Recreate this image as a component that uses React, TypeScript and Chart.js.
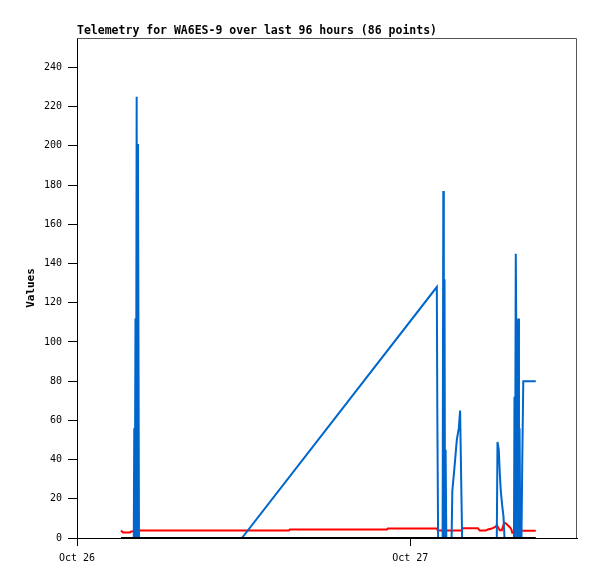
import React, { useEffect, useRef } from "react";
import { Chart, registerables } from "chart.js";

Chart.register(...registerables);

const TITLE = "Telemetry for WA6ES-9 over last 96 hours (86 points)";
const Y_TITLE = "Values";

// x values: hours since Oct 26 00:00
const blueHours = [
  3.166, 4.088, 4.123, 4.159, 4.21, 4.246, 4.296, 4.332, 4.39, 4.462, 11.874,
  25.907, 25.943, 26.0, 26.324, 26.375, 26.411, 26.461, 26.497, 26.54, 26.591,
  26.972, 27.023, 27.166, 27.346, 27.49, 27.584, 27.656, 27.728,
  30.225, 30.275, 30.369, 30.441, 30.513, 30.606, 30.707, 30.779,
  31.462, 31.498, 31.534, 31.592, 31.649, 31.685, 31.772, 31.822, 31.865, 31.916,
  32.002, 32.06, 32.132, 33.031,
];
const blueValues = [
  0, 0, 56, 0, 112, 0, 225, 0, 201, 0, 0,
  128, 64, 0, 0, 177, 0, 132, 0, 45, 0,
  0, 24, 35, 50, 56, 65, 32, 0,
  0, 49, 45, 33, 24, 17, 11, 0,
  0, 72, 0, 145, 84, 0, 112, 0, 56, 0,
  0, 40, 80, 80,
];

const redHours = [
  3.166, 3.31, 3.814, 3.886, 4.03, 4.102, 15.256, 15.328, 22.309, 22.381, 25.907,
  25.979, 27.706, 27.778, 28.858, 29.001, 29.433, 29.577, 29.865, 30.153, 30.225,
  30.441, 30.585, 30.765, 30.873, 31.017, 31.16, 31.268, 31.34, 31.52, 31.628,
  32.096, 33.031,
];
const redValues = [
  3.8, 2.8, 2.8, 3.3, 3.3, 3.8, 3.8, 4.3, 4.3, 4.8, 4.8,
  3.8, 3.8, 5.0, 5.0, 3.8, 3.8, 4.3, 4.8, 5.8, 6.6,
  4.0, 4.0, 7.8, 7.5, 6.5, 5.5, 4.5, 2.7, 2.7, 3.6,
  3.7, 3.7,
];

const blackHours = [3.166, 33.031];
const blackValues = [0, 0];

const yTicks = [0, 20, 40, 60, 80, 100, 120, 140, 160, 180, 200, 220, 240];
const xTickHours = [0, 24];
const xTickLabels = ["Oct 26", "Oct 27"];

const framePlugin = {
  id: "frame",
  afterDatasetsDraw(chart: any) {
    const { ctx, chartArea } = chart;
    const { left, top, right, bottom } = chartArea;
    ctx.save();
    ctx.strokeStyle = "#555";
    ctx.lineWidth = 1;
    ctx.beginPath();
    ctx.moveTo(left, Math.round(top) + 0.5);
    ctx.lineTo(Math.round(right) - 0.5, Math.round(top) + 0.5);
    ctx.lineTo(Math.round(right) - 0.5, bottom);
    ctx.stroke();
    ctx.restore();
  },
};

export default function App() {
  const ref = useRef<HTMLCanvasElement | null>(null);

  useEffect(() => {
    if (!ref.current) return;
    const toPts = (xs: number[], ys: number[]) => xs.map((x, i) => ({ x, y: ys[i] }));
    const mono = "'DejaVu Sans Mono', monospace";
    const chart = new Chart(ref.current, {
      type: "line",
      data: {
        datasets: [
          {
            data: toPts(blackHours, blackValues),
            borderColor: "#000000",
            borderWidth: 2,
            pointRadius: 0,
            tension: 0,
          },
          {
            data: toPts(blueHours, blueValues),
            borderColor: "#0066CC",
            borderWidth: 2,
            pointRadius: 0,
            tension: 0,
          },
          {
            data: toPts(redHours, redValues),
            borderColor: "#FF0000",
            borderWidth: 2,
            pointRadius: 0,
            tension: 0,
          },
        ],
      },
      options: {
        animation: false,
        responsive: false,
        parsing: false as any,
        layout: { padding: { top: 25, left: 0, right: 20, bottom: 0 } },
        plugins: {
          legend: { display: false },
          tooltip: { enabled: false },
          title: {
            display: true,
            text: TITLE,
            align: "start",
            fullSize: false,
            color: "#000",
            padding: { top: 0, bottom: 0 },
            font: { family: mono, size: 11.5, weight: "bold", lineHeight: "13px" as any },
          },
        },
        scales: {
          x: {
            type: "linear",
            min: 0,
            max: 36,
            afterBuildTicks: (scale: any) => {
              scale.ticks = xTickHours.map((v) => ({ value: v }));
            },
            afterFit: (scale: any) => {
              scale.height = 41;
            },
            ticks: {
              color: "#000",
              padding: 6,
              maxRotation: 0,
              autoSkip: false,
              font: { family: mono, size: 10 },
              callback: (v: any) => {
                const i = xTickHours.indexOf(Number(v));
                return i >= 0 ? xTickLabels[i] : "";
              },
            },
            grid: { drawOnChartArea: false, drawTicks: true, tickLength: 8, color: "#000" },
            border: { color: "#000", width: 1 },
          },
          y: {
            type: "linear",
            min: 0,
            max: 255,
            afterBuildTicks: (scale: any) => {
              scale.ticks = yTicks.map((v) => ({ value: v }));
            },
            afterFit: (scale: any) => {
              scale.width = 77;
            },
            ticks: {
              color: "#000",
              padding: 6,
              autoSkip: false,
              font: { family: mono, size: 10 },
              callback: (v: any) => String(v),
            },
            grid: { drawOnChartArea: false, drawTicks: true, tickLength: 9, color: "#000" },
            border: { color: "#000", width: 1 },
            title: {
              display: true,
              text: Y_TITLE,
              color: "#000",
              padding: { top: 24, bottom: 0 },
              font: { family: mono, size: 11, weight: "bold", lineHeight: "14px" as any },
            },
          },
        },
      },
      plugins: [framePlugin],
    });
    return () => chart.destroy();
  }, []);

  return (
    <div style={{ position: "absolute", left: 0, top: 0, width: 597, height: 579, background: "#fff" }}>
      <canvas ref={ref} width={597} height={579} style={{ display: "block" }} />
    </div>
  );
}
